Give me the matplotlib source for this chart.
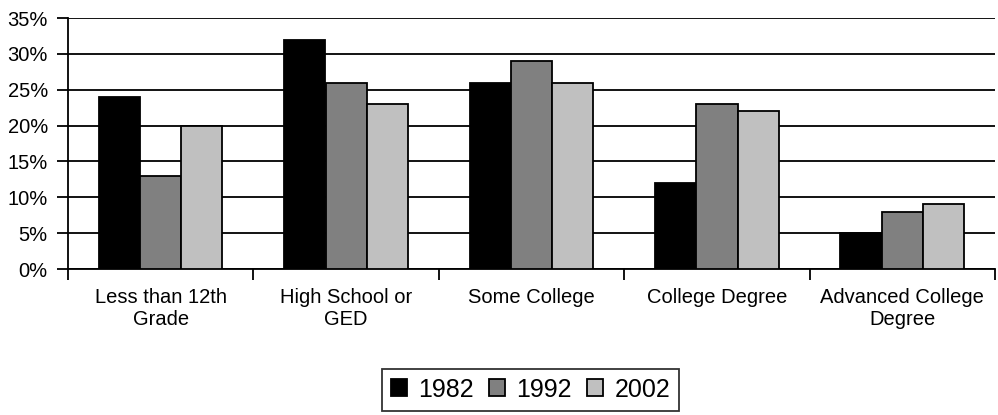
import matplotlib
matplotlib.use("Agg")
import matplotlib.pyplot as plt
import numpy as np
from matplotlib.ticker import FuncFormatter

categories = ["Less than 12th\nGrade", "High School or\nGED", "Some College", "College Degree", "Advanced College\nDegree"]
years = ["1982", "1992", "2002"]
v1982 = [24, 32, 26, 12, 5]
v1992 = [13, 26, 29, 23, 8]
v2002 = [20, 23, 26, 22, 9]
colors = ["#000000", "#808080", "#C0C0C0"]

plt.rcParams['font.family'] = ['Liberation Sans', 'DejaVu Sans']

fig = plt.figure(figsize=(9.98, 4.15), dpi=100)
ax = fig.add_axes([68/998, 1-269/415, 927/998, 251/415])

n = len(categories)
x = np.arange(n)
bw = 1/4.5
series = [v1982, v1992, v2002]
for i, (vals, c, lab) in enumerate(zip(series, colors, years)):
    ax.bar(x + (i-1)*bw, vals, width=bw, color=c, edgecolor='black', linewidth=1.3, label=lab, zorder=3)

ax.set_xlim(-0.5, n-0.5)
ax.set_ylim(0, 35)
ax.set_yticks(np.arange(0, 36, 5))
ax.yaxis.set_major_formatter(FuncFormatter(lambda v, p: f"{int(v)}%"))
ax.yaxis.grid(True, color='black', linewidth=1.3, zorder=0)
ax.set_axisbelow(True)
for s in ['top', 'right']:
    ax.spines[s].set_visible(False)
ax.spines['left'].set_linewidth(1.3)
ax.spines['bottom'].set_linewidth(1.3)

ax.set_xticks(np.arange(-0.5, n, 1))
ax.set_xticklabels([])
ax.set_xticks(x, minor=True)
ax.set_xticklabels(categories, minor=True, fontsize=14.5)
ax.tick_params(axis='x', which='major', length=8, width=1.3, direction='out')
ax.tick_params(axis='x', which='minor', length=0, pad=14)
ax.tick_params(axis='y', length=8, width=1.3, labelsize=14.5, pad=6.5)

leg = fig.legend(loc='center', bbox_to_anchor=(530.5/998, 1-389.5/415), ncol=3, fontsize=18,
                 frameon=True, fancybox=False, edgecolor='black', handlelength=0.64, handleheight=0.64,
                 handletextpad=0.46, columnspacing=0.6, borderpad=0.36, borderaxespad=0)
leg.get_frame().set_linewidth(1.3)

fig.savefig("out.png", dpi=100)
